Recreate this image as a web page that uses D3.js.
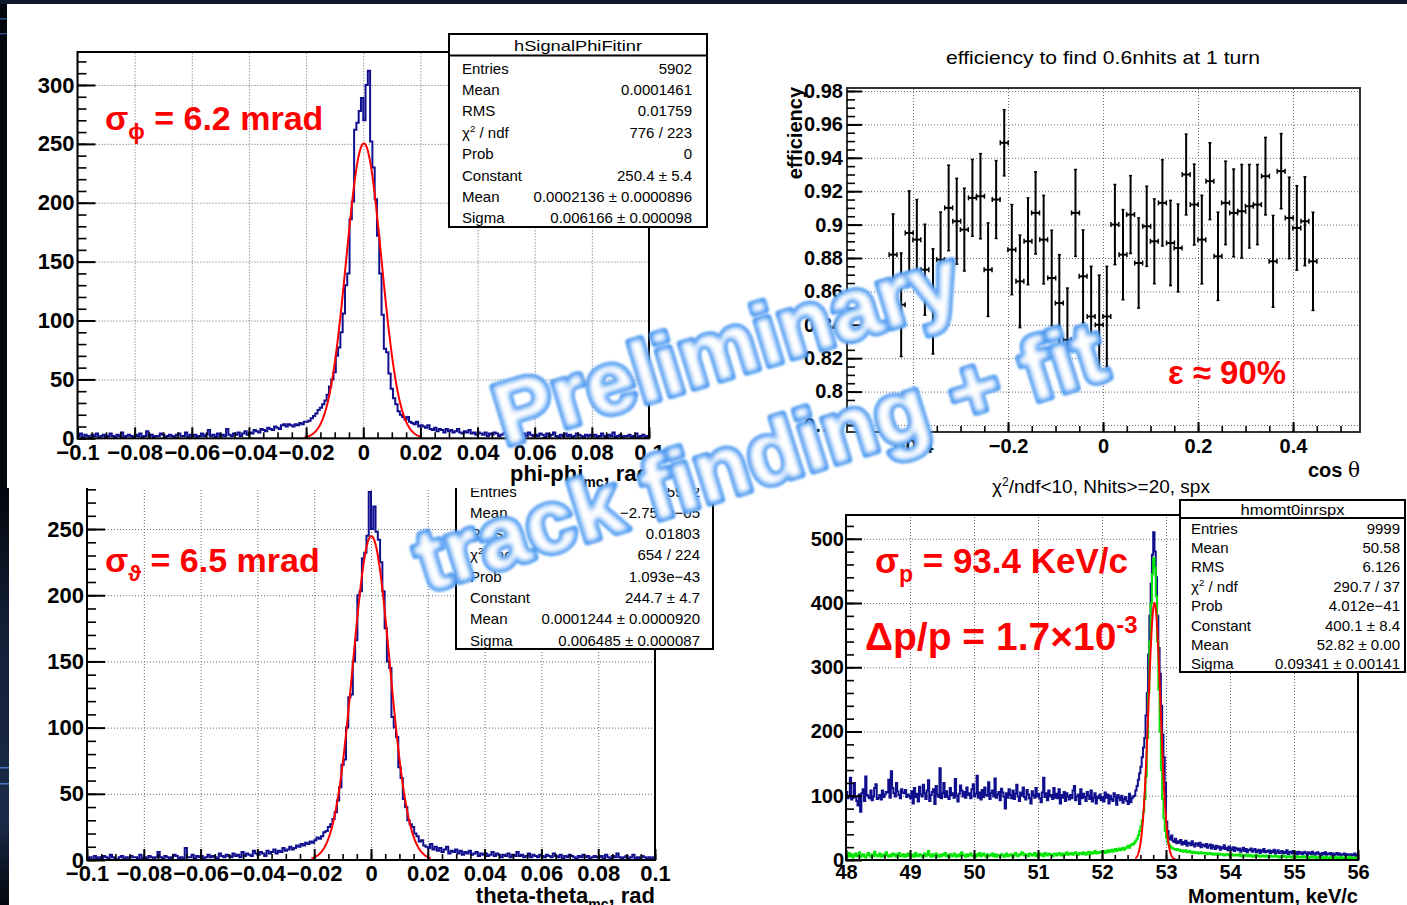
<!DOCTYPE html>
<html><head><meta charset="utf-8">
<script src="https://cdn.jsdelivr.net/npm/d3@7"></script>
<style>
html,body{margin:0;padding:0;background:#0d1628;overflow:hidden;}
svg{display:block;}
</style></head><body>
<svg id="c" width="1407" height="905"></svg>
<script>
// ---------------- DATA ----------------
// phi - phi_mc histogram, 250 bins on [-0.1, 0.1]
const phiRange = [-0.1, 0.1];
const phiCounts = [
 2,4,1,3,2,0,3,2,4,1,2,3,1,2,4,2,1,3,2,5,1,2,3,2,1,
 3,2,4,1,2,6,2,3,1,2,2,4,3,1,2,3,2,1,3,4,2,2,5,1,3,
 2,3,1,2,4,2,3,7,2,3,1,4,2,3,2,8,3,2,4,3,5,2,4,6,3,
 5,4,7,6,5,8,7,6,9,8,7,10,9,8,11,12,10,12,11,10,12,11,13,12,14,
 14,15,17,19,21,24,26,29,32,37,
 44,50,56,70,77,90,106,130,140,186,201,262,268,278,289,270,300,312,252,230,203,172,140,105,76,73,55,42,34,29,23,
 20,18,16,18,14,13,12,14,10,
 11,10,9,11,8,7,9,6,8,7,5,8,6,7,5,6,8,5,4,6,5,7,4,5,3,
 5,4,3,5,2,4,3,5,4,2,3,4,6,3,2,4,3,5,2,3,4,2,5,3,2,
 3,2,4,3,1,4,2,3,5,2,1,3,2,4,2,3,1,2,4,3,2,1,3,2,3,
 2,3,1,2,4,2,1,3,2,5,1,2,3,1,2,2,3,1,2,4,1,2,3,1,2
];
const phiFit = [250.4, 0.0002136, 0.006166];      // Constant, Mean, Sigma
const phiFitRange = [-0.0205, 0.0205];

// theta - theta_mc histogram, 250 bins on [-0.1, 0.1]
const thetaRange = [-0.1, 0.1];
const thetaCounts = [
 1,2,0,3,1,2,1,3,2,1,4,2,1,0,2,3,1,2,1,3,2,2,1,4,1,
 2,1,3,2,1,2,6,2,1,3,2,1,2,4,3,1,2,1,9,2,2,4,1,3,2,
 3,1,2,4,2,3,2,1,5,3,2,4,3,2,5,3,4,2,6,3,5,4,3,7,5,
 4,6,5,3,7,5,6,8,5,7,6,9,7,8,10,8,9,11,10,12,11,13,12,14,13,
 15,17,16,18,21,22,25,27,31,36,
 45,55,72,76,100,123,125,150,166,200,203,228,232,245,278,250,267,248,242,225,203,175,150,145,108,100,93,70,62,46,40,30,27,25,20,18,14,15,11,10,
 9,12,8,10,7,9,6,8,10,5,7,6,8,5,7,4,6,5,7,4,5,6,3,5,4,
 5,3,4,6,3,5,4,2,4,3,5,2,4,3,6,3,4,2,3,5,2,4,3,2,4,
 3,2,4,3,2,5,3,2,4,1,3,2,4,3,2,1,3,2,4,2,3,1,2,3,2,
 2,3,1,4,2,1,3,2,5,2,1,2,3,1,2,4,1,2,1,3,2,1,2,1,2
];
const thetaFit = [244.7, 0.0001244, 0.006485];
const thetaFitRange = [-0.021, 0.021];

// momentum histograms, 400 bins on [48, 56] keV/c
const momRange = [48, 56];
const momBlue = [
 106,96,99,128,94,97,120,98,92,85,102,75,104,110,92,130,101,99,96,108,93,99,112,118,95,
 97,101,94,108,98,102,106,105,125,97,138,112,104,99,120,107,101,96,110,105,104,109,98,102,100,
 96,107,88,112,98,103,91,114,102,99,117,104,95,108,124,92,101,106,110,87,115,102,98,143,96,
 104,120,98,107,99,95,112,101,104,97,126,100,91,103,116,108,99,106,97,113,101,104,96,110,118,
 99,103,131,97,105,94,109,98,113,101,100,121,95,104,108,99,127,97,102,106,93,111,105,99,80,
 104,97,110,101,96,108,95,103,117,99,92,105,100,113,98,94,109,102,96,88,107,101,97,112,99,
 103,96,90,105,128,98,104,93,108,99,101,95,112,97,103,96,110,88,101,97,106,92,104,99,94,
 101,96,108,115,93,99,102,87,110,96,103,98,92,106,100,95,108,91,97,104,88,99,96,102,93,
 98,91,105,97,102,88,100,95,92,104,99,86,101,97,93,100,89,95,98,92,87,103,90,96,99,
 100,108,115,125,135,145,160,175,190,225,260,320,380,430,475,510,480,440,380,330,290,240,195,160,120,60,45,35,32,38,
 30,28,33,26,29,27,31,24,28,25,30,22,27,26,23,29,24,21,26,25,22,27,20,24,23,
 21,25,19,22,24,18,23,20,17,22,19,21,16,20,18,23,17,19,15,21,18,16,20,14,19,
 17,15,18,13,16,19,14,17,12,16,15,18,13,15,17,12,14,16,11,15,13,17,12,14,13,
 15,11,14,12,16,10,13,15,11,12,14,10,13,11,15,9,12,13,10,14,11,12,9,13,10,
 12,9,11,13,10,8,12,11,9,13,10,8,11,12,9,10,7,11,9,12,8,10,9,11,8,
 10,7,9,11,8,10,6,9,8,10,7,9,8,6,9,7,8,10,6,8
];
const momGreen = [
 8,5,11,6,9,4,7,10,6,8,12,5,7,9,6,4,8,11,7,5,9,6,13,8,6,
 7,10,5,8,6,9,12,7,5,8,6,10,7,9,5,8,11,6,7,9,5,8,6,10,7,
 9,6,8,5,11,7,6,9,8,5,7,10,6,8,14,7,5,9,6,8,10,7,5,8,6,
 9,7,11,6,8,5,9,7,6,10,8,5,7,9,6,12,8,7,5,9,6,8,10,7,6,
 8,5,9,7,11,6,8,10,7,5,9,6,8,7,10,6,9,5,8,7,6,9,8,5,7,
 10,6,8,7,9,5,8,11,7,6,9,8,12,10,7,9,8,6,10,9,7,8,11,6,9,
 8,10,7,9,6,11,8,7,10,9,8,6,9,10,7,8,11,9,7,10,8,9,12,8,10,
 9,11,8,10,12,9,8,11,10,9,12,10,8,11,13,9,12,10,11,14,10,12,11,13,12,
 12,14,11,13,15,12,14,16,13,15,17,14,16,18,15,17,19,16,18,20,22,19,23,25,24,
 27,30,33,38,45,52,62,75,95,130,190,260,340,400,445,470,455,410,340,265,200,140,95,65,45,35,28,24,21,19,
 18,17,16,17,15,16,14,15,13,14,15,12,13,14,12,11,13,12,11,12,10,11,12,10,11,
 10,11,9,10,11,9,10,8,10,9,8,10,9,8,9,7,9,8,9,7,8,9,7,8,7,
 8,7,9,6,8,7,6,8,7,6,8,7,5,7,6,8,6,7,5,6,7,6,5,7,6,
 5,7,6,5,6,7,5,6,4,6,5,7,5,6,4,5,6,5,4,6,5,4,6,5,4,
 5,4,6,5,4,5,3,5,4,6,4,5,3,4,5,4,3,5,4,3,5,4,3,4,5,
 3,4,5,3,4,3,5,4,3,4,2,4,3,5,3,4,3,2,4,3
];
const momFit = [400.1, 52.82, 0.09341];
const momFitRange = [52.52, 53.22];

// efficiency vs cos(theta)
const effX = [-0.442,-0.425,-0.408,-0.392,-0.375,-0.358,-0.342,-0.325,-0.308,-0.292,-0.275,-0.258,-0.242,-0.225,-0.208,-0.192,-0.175,-0.158,-0.142,-0.125,-0.108,-0.092,-0.075,-0.058,-0.042,-0.025,-0.008,
              0.008,0.025,0.042,0.058,0.075,0.092,0.108,0.125,0.142,0.158,0.175,0.192,0.208,0.225,0.242,0.258,0.275,0.292,0.308,0.325,0.342,0.358,0.375,0.392,0.408,0.425,0.442];
const effY = [0.882,0.852,0.895,0.891,0.873,0.854,0.879,0.910,0.902,0.897,0.916,0.917,0.873,0.915,0.949,0.885,0.866,0.890,0.907,0.891,0.868,0.853,0.831,0.907,0.869,0.845,0.840,
              0.845,0.900,0.882,0.906,0.877,0.899,0.890,0.913,0.889,0.886,0.930,0.912,0.891,0.926,0.881,0.913,0.907,0.908,0.911,0.912,0.929,0.878,0.932,0.904,0.898,0.902,0.878];
const effErr = [0.0244,0.031,0.0252,0.024,0.0272,0.0315,0.0285,0.0256,0.0257,0.0248,0.023,0.0255,0.028,0.0233,0.0198,0.027,0.0277,0.026,0.0246,0.0265,0.0286,0.029,0.031,0.026,0.0278,0.030,0.0297,
                0.030,0.024,0.027,0.0233,0.027,0.024,0.0254,0.0258,0.0255,0.0263,0.0242,0.0242,0.0265,0.023,0.0264,0.025,0.0263,0.028,0.025,0.024,0.0232,0.0275,0.0225,0.0244,0.0253,0.0266,0.0294];
const effBinHalfWidth = 0.0083;

// tick labels
const phiTicksX = [-0.1,-0.08,-0.06,-0.04,-0.02,0,0.02,0.04,0.06,0.08,0.1];
const phiTicksY = [0,50,100,150,200,250,300];
const thetaTicksY = [0,50,100,150,200,250];
const effTicksX = [-0.4,-0.2,0,0.2,0.4];
const effTicksY = [0.78,0.8,0.82,0.84,0.86,0.88,0.9,0.92,0.94,0.96,0.98];
const momTicksX = [48,49,50,51,52,53,54,55,56];
const momTicksY = [0,100,200,300,400,500];

// stat boxes
const phiStats = [["Entries","5902"],["Mean","0.0001461"],["RMS","0.01759"],["chi2","776 / 223"],["Prob","0"],["Constant","250.4 \u00b1 5.4"],["Mean","0.0002136 \u00b1 0.0000896"],["Sigma","0.006166 \u00b1 0.000098"]];
const thetaStats = [["Entries","5902"],["Mean","\u22122.751e\u221205"],["RMS","0.01803"],["chi2","654 / 224"],["Prob","1.093e\u221243"],["Constant","244.7 \u00b1 4.7"],["Mean","0.0001244 \u00b1 0.0000920"],["Sigma","0.006485 \u00b1 0.000087"]];
const momStats = [["Entries","9999"],["Mean","50.58"],["RMS","6.126"],["chi2","290.7 / 37"],["Prob","4.012e\u221241"],["Constant","400.1 \u00b1 8.4"],["Mean","52.82 \u00b1 0.00"],["Sigma","0.09341 \u00b1 0.00141"]];

// ---------------- DRAW ----------------
const FONT = '"Liberation Sans", Arial, Helvetica, sans-serif';
const W = 1407, H = 905;
const svg = d3.select("#c").attr("font-family", FONT);
const defs = svg.append("defs");

const BLUE = "#10108f", GREEN = "#00e600", RED = "#ff0000";

// slide background
svg.append("rect").attr("width", W).attr("height", H).attr("fill", "#0e182b");
svg.append("rect").attr("x", 0).attr("y", 4).attr("width", 7).attr("height", 484).attr("fill", "#03060c");
[18, 33].forEach(yy => svg.append("rect").attr("x", 0).attr("y", yy).attr("width", 7).attr("height", 1.5).attr("fill", "#2c4f8f"));
const lg = defs.append("linearGradient").attr("id", "stripG").attr("x1", 0).attr("x2", 0).attr("y1", 0).attr("y2", 1);
lg.append("stop").attr("offset", "0").attr("stop-color", "#04070d");
lg.append("stop").attr("offset", "0.35").attr("stop-color", "#142038");
lg.append("stop").attr("offset", "0.8").attr("stop-color", "#1a2a48");
lg.append("stop").attr("offset", "1").attr("stop-color", "#04070d");
svg.append("rect").attr("x", 0).attr("y", 488).attr("width", 9).attr("height", 417).attr("fill", "url(#stripG)");
[767, 783].forEach(yy => svg.append("rect").attr("x", 0).attr("y", yy).attr("width", 9).attr("height", 1.5).attr("fill", "#4a78c8"));
svg.append("rect").attr("x", 9).attr("y", 4).attr("width", W - 9).attr("height", H - 4).attr("fill", "#fff");

function fmt(v) {
  if (Math.abs(v) < 1e-12) return "0";
  return String(+v.toFixed(3)).replace("-", "\u2212");
}

function panelBase(g, o) {
  const x = d3.scaleLinear().domain(o.xd).range([o.L, o.R]);
  const y = d3.scaleLinear().domain(o.yd).range([o.B, o.T]);
  const gridStyle = s => {
    s.select(".domain").remove();
    s.selectAll(".tick line").attr("stroke", "#6a6a6a").attr("stroke-width", 1).attr("stroke-dasharray", "1,2");
  };
  g.append("g").attr("transform", `translate(0,${o.B})`)
    .call(d3.axisBottom(x).tickValues(o.xMajor).tickSize(-(o.B - o.T)).tickFormat("")).call(gridStyle);
  g.append("g").attr("transform", `translate(${o.L},0)`)
    .call(d3.axisLeft(y).tickValues(o.yMajor).tickSize(-(o.R - o.L)).tickFormat("")).call(gridStyle);
  const cid = "clip" + o.id;
  defs.append("clipPath").attr("id", cid).append("rect")
    .attr("x", o.L).attr("y", o.T).attr("width", o.R - o.L).attr("height", o.B - o.T);
  const plot = g.append("g").attr("clip-path", `url(#${cid})`);
  return { x, y, plot };
}

function panelAxes(g, o, x, y) {
  g.append("rect").attr("x", o.L).attr("y", o.T).attr("width", o.R - o.L).attr("height", o.B - o.T)
    .attr("fill", "none").attr("stroke", o.frame || "#000").attr("stroke-width", 2);
  const st = (s, lw) => {
    s.select(".domain").remove();
    s.selectAll(".tick line").attr("stroke", "#000").attr("stroke-width", lw);
    s.selectAll("text").attr("font-family", FONT).attr("font-weight", "bold")
      .attr("font-size", o.fs).attr("fill", "#000");
  };
  g.append("g").attr("transform", `translate(0,${o.B})`)
    .call(d3.axisBottom(x).tickValues(o.xMinor).tickSizeInner(-o.xMin).tickSizeOuter(0).tickFormat(""))
    .call(s => st(s, 1.6));
  g.append("g").attr("transform", `translate(0,${o.B})`)
    .call(d3.axisBottom(x).tickValues(o.xMajor).tickSizeInner(-o.xMaj).tickSizeOuter(0).tickPadding(o.xPad).tickFormat(fmt))
    .call(s => st(s, 2));
  g.append("g").attr("transform", `translate(${o.L},0)`)
    .call(d3.axisLeft(y).tickValues(o.yMinor).tickSizeInner(-o.yMin).tickSizeOuter(0).tickFormat(""))
    .call(s => st(s, 1.6));
  g.append("g").attr("transform", `translate(${o.L},0)`)
    .call(d3.axisLeft(y).tickValues(o.yMajor).tickSizeInner(-o.yMaj).tickSizeOuter(0).tickPadding(o.yPad).tickFormat(fmt))
    .call(s => st(s, 2));
}

function histPath(counts, range, x, y) {
  const w = (range[1] - range[0]) / counts.length;
  const pts = counts.map((c, i) => [range[0] + i * w, c]);
  pts.push([range[1], counts[counts.length - 1]]);
  pts.unshift([range[0], 0]);
  const line = d3.line().x(d => x(d[0])).y(d => y(d[1])).curve(d3.curveStepAfter);
  return line(pts);
}
function gaussPath(par, rng, x, y) {
  const n = 240, step = (rng[1] - rng[0]) / n;
  const pts = d3.range(n + 1).map(i => {
    const xv = rng[0] + i * step;
    return [xv, par[0] * Math.exp(-0.5 * Math.pow((xv - par[1]) / par[2], 2))];
  });
  return d3.line().x(d => x(d[0])).y(d => y(d[1]))(pts);
}

function statBox(g, b) {
  g.append("rect").attr("x", b.x).attr("y", b.y).attr("width", b.w).attr("height", b.h)
    .attr("fill", "#fff").attr("stroke", "#000").attr("stroke-width", 2);
  g.append("line").attr("x1", b.x).attr("x2", b.x + b.w).attr("y1", b.sep).attr("y2", b.sep)
    .attr("stroke", "#000").attr("stroke-width", 2);
  g.append("text").attr("x", b.x + b.w / 2).attr("y", b.titleY).attr("text-anchor", "middle")
    .attr("font-size", b.fs).attr("textLength", b.titleLen).attr("lengthAdjust", "spacingAndGlyphs")
    .attr("fill", "#000").text(b.title);
  b.rows.forEach((r, i) => {
    const yy = b.row0 + i * b.step;
    const t = g.append("text").attr("x", b.lx).attr("y", yy).attr("font-size", b.fs).attr("fill", "#000");
    if (r[0] === "chi2") {
      t.append("tspan").text("\u03c7");
      t.append("tspan").attr("font-size", b.fs * 0.65).attr("dy", -6).text("2");
      t.append("tspan").attr("dy", 6).text(" / ndf");
    } else t.text(r[0]);
    g.append("text").attr("x", b.rx).attr("y", yy).attr("text-anchor", "end")
      .attr("font-size", b.fs).attr("fill", "#000").text(r[1]);
  });
}

function redLabel(g, x, y, fs, parts) {
  const t = g.append("text").attr("x", x).attr("y", y).attr("font-size", fs)
    .attr("font-weight", "bold").attr("fill", RED);
  parts.forEach(p => {
    const s = t.append("tspan").text(p.t);
    if (p.fs) s.attr("font-size", p.fs);
    if (p.dy) s.attr("dy", p.dy);
  });
  return t;
}

// ===== bottom-left: theta =====
{
  const g = svg.append("g");
  const o = { id: "th", L: 87, R: 655, T: 470, B: 860, xd: thetaRange, yd: [0, 294.6],
    xMajor: phiTicksX, yMajor: thetaTicksY,
    xMinor: d3.range(-0.1, 0.1001, 0.005), yMinor: d3.range(0, 291, 10),
    xMaj: 11, xMin: 6, yMaj: 18, yMin: 9, fs: 22, xPad: 5, yPad: 3 };
  const { x, y, plot } = panelBase(g, o);
  plot.append("path").attr("d", histPath(thetaCounts, thetaRange, x, y))
    .attr("fill", "none").attr("stroke", BLUE).attr("stroke-width", 2);
  plot.append("path").attr("d", gaussPath(thetaFit, thetaFitRange, x, y))
    .attr("fill", "none").attr("stroke", RED).attr("stroke-width", 2);
  panelAxes(g, o, x, y);
  const xl = g.append("text").attr("x", 655).attr("y", 903).attr("text-anchor", "end")
    .attr("font-size", 22).attr("font-weight", "bold").attr("fill", "#000");
  xl.append("tspan").text("theta-theta");
  xl.append("tspan").attr("font-size", 14).attr("dy", 6).text("mc");
  xl.append("tspan").attr("dy", -6).text(", rad");
  statBox(g, { x: 456, y: 458, w: 257, h: 191, sep: 480, titleY: 475, title: "hSignalThetaFitinr", titleLen: 140,
    fs: 15, rows: thetaStats, row0: 496.5, step: 21.3, lx: 470, rx: 700 });
  redLabel(g, 105, 572, 34, [{ t: "\u03c3" }, { t: "\u03d1", fs: 22, dy: 9 }, { t: " = 6.5 mrad", dy: -9 }]);
}

// ===== top-right: efficiency =====
{
  const g = svg.append("g");
  const o = { id: "ef", L: 847, R: 1360, T: 88, B: 432, xd: [-0.539, 0.541], yd: [0.7758, 0.9818],
    xMajor: effTicksX, yMajor: effTicksY,
    xMinor: d3.range(-0.5, 0.5001, 0.05), yMinor: d3.range(0.78, 0.9801, 0.005),
    xMaj: 10, xMin: 6, yMaj: 15, yMin: 8, fs: 20, xPad: 7, yPad: 4, frame: "#333" };
  const { x, y, plot } = panelBase(g, o);
  const pts = plot.append("g").attr("stroke", "#000").attr("stroke-width", 2);
  effX.forEach((xv, i) => {
    const cx = x(xv), cy = y(effY[i]), yt = y(effY[i] + effErr[i]), yb = y(effY[i] - effErr[i]);
    const xl = x(xv - effBinHalfWidth), xr = x(xv + effBinHalfWidth);
    pts.append("line").attr("x1", cx).attr("x2", cx).attr("y1", yt).attr("y2", yb);
    pts.append("line").attr("x1", xl).attr("x2", xr).attr("y1", cy).attr("y2", cy);
    pts.append("line").attr("x1", xl).attr("x2", xl).attr("y1", cy - 2.5).attr("y2", cy + 2.5).attr("stroke-width", 1.5);
    pts.append("line").attr("x1", xr).attr("x2", xr).attr("y1", cy - 2.5).attr("y2", cy + 2.5).attr("stroke-width", 1.5);
    pts.append("line").attr("x1", cx - 1.5).attr("x2", cx + 1.5).attr("y1", yt).attr("y2", yt).attr("stroke-width", 1.5);
    pts.append("line").attr("x1", cx - 1.5).attr("x2", cx + 1.5).attr("y1", yb).attr("y2", yb).attr("stroke-width", 1.5);
  });
  panelAxes(g, o, x, y);
  g.append("text").attr("x", 1103).attr("y", 64).attr("text-anchor", "middle").attr("font-size", 19)
    .attr("textLength", 314).attr("lengthAdjust", "spacingAndGlyphs").attr("fill", "#000")
    .text("efficiency to find 0.6nhits at 1 turn");
  g.append("text").attr("transform", "translate(802,87) rotate(-90)").attr("text-anchor", "end")
    .attr("font-size", 20).attr("font-weight", "bold").attr("fill", "#000").text("efficiency");
  const ct = g.append("text").attr("x", 1360).attr("y", 477).attr("text-anchor", "end")
    .attr("font-size", 20).attr("font-weight", "bold").attr("fill", "#000");
  ct.append("tspan").text("cos  ");
  ct.append("tspan").attr("font-weight", "normal").attr("font-family", "'DejaVu Serif', serif").text("\u03b8");
  redLabel(g, 1168, 384, 33, [{ t: "\u03b5 \u2248 90%" }]);
}

// ===== bottom-right: momentum =====
{
  const g = svg.append("g");
  const o = { id: "mo", L: 846, R: 1358, T: 515, B: 860, xd: momRange, yd: [0, 537],
    xMajor: momTicksX, yMajor: momTicksY,
    xMinor: d3.range(48, 56.001, 0.2), yMinor: d3.range(0, 521, 20),
    xMaj: 10, xMin: 5, yMaj: 16, yMin: 8, fs: 20, xPad: 5, yPad: 2 };
  const { x, y, plot } = panelBase(g, o);
  plot.append("path").attr("d", histPath(momBlue, momRange, x, y))
    .attr("fill", "none").attr("stroke", BLUE).attr("stroke-width", 2);
  plot.append("path").attr("d", histPath(momGreen, momRange, x, y))
    .attr("fill", "none").attr("stroke", GREEN).attr("stroke-width", 2);
  plot.append("path").attr("d", gaussPath(momFit, momFitRange, x, y))
    .attr("fill", "none").attr("stroke", RED).attr("stroke-width", 2);
  panelAxes(g, o, x, y);
  g.append("text").attr("x", 1358).attr("y", 903).attr("text-anchor", "end").attr("font-size", 20)
    .attr("font-weight", "bold").attr("fill", "#000").text("Momentum, keV/c");
  const st = g.append("text").attr("x", 1101).attr("y", 493).attr("text-anchor", "middle")
    .attr("font-size", 19).attr("fill", "#000");
  st.append("tspan").text("\u03c7");
  st.append("tspan").attr("font-size", 12).attr("dy", -7).text("2");
  st.append("tspan").attr("dy", 7).text("/ndf<10, Nhits>=20, spx");
  statBox(g, { x: 1180, y: 500, w: 225, h: 172, sep: 518, titleY: 514.5, title: "hmomt0inrspx", titleLen: 104,
    fs: 15, rows: momStats, row0: 533.5, step: 19.4, lx: 1191, rx: 1400 });
  redLabel(g, 875, 573, 35, [{ t: "\u03c3" }, { t: "p", fs: 23, dy: 9 }, { t: " = 93.4 KeV/c", dy: -9 }]);
  redLabel(g, 865, 650, 39, [{ t: "\u0394p/p = 1.7\u00d710" }, { t: "-3", fs: 24, dy: -17 }]);
}

// ===== top-left: phi (pasted on top) =====
{
  defs.append("clipPath").attr("id", "tlClip").append("rect").attr("x", 7).attr("y", 4).attr("width", 733).attr("height", 484);
  const g = svg.append("g").attr("clip-path", "url(#tlClip)");
  g.append("rect").attr("x", 7).attr("y", 4).attr("width", 733).attr("height", 484).attr("fill", "#fff");
  const o = { id: "ph", L: 77.5, R: 649, T: 52, B: 438.3, xd: phiRange, yd: [0, 328],
    xMajor: phiTicksX, yMajor: phiTicksY,
    xMinor: d3.range(-0.1, 0.1001, 0.005), yMinor: d3.range(0, 321, 10),
    xMaj: 11, xMin: 6, yMaj: 18, yMin: 9, fs: 22, xPad: 6, yPad: 3 };
  const { x, y, plot } = panelBase(g, o);
  plot.append("path").attr("d", histPath(phiCounts, phiRange, x, y))
    .attr("fill", "none").attr("stroke", BLUE).attr("stroke-width", 2);
  plot.append("path").attr("d", gaussPath(phiFit, phiFitRange, x, y))
    .attr("fill", "none").attr("stroke", RED).attr("stroke-width", 2);
  panelAxes(g, o, x, y);
  const xl = g.append("text").attr("x", 650).attr("y", 481).attr("text-anchor", "end")
    .attr("font-size", 22).attr("font-weight", "bold").attr("fill", "#000");
  xl.append("tspan").text("phi-phi");
  xl.append("tspan").attr("font-size", 14).attr("dy", 6).text("mc");
  xl.append("tspan").attr("dy", -6).text(", rad");
  statBox(g, { x: 449, y: 34, w: 258, h: 193, sep: 55.5, titleY: 50.5, title: "hSignalPhiFitinr", titleLen: 128,
    fs: 15, rows: phiStats, row0: 73.6, step: 21.4, lx: 462, rx: 692 });
  redLabel(g, 105, 130, 34, [{ t: "\u03c3" }, { t: "\u03d5", fs: 22, dy: 9 }, { t: " = 6.2 mrad", dy: -9 }]);
}

// ===== watermark =====
{
  const f1 = defs.append("filter").attr("id", "wb1").attr("x", "-10%").attr("y", "-40%").attr("width", "120%").attr("height", "180%");
  f1.append("feGaussianBlur").attr("stdDeviation", 1.0);
  const f2 = defs.append("filter").attr("id", "wb2").attr("x", "-10%").attr("y", "-40%").attr("width", "120%").attr("height", "180%");
  f2.append("feGaussianBlur").attr("stdDeviation", 2.4);
  const wm = svg.append("g");
  const words = [
    { t: "Preliminary", x: 505, y: 446, a: -17, len: 482, fs: 88 },
    { t: "track finding + fit", x: 426, y: 592, a: -17.4, len: 718, fs: 88 }
  ];
  words.forEach(w => {
    const mk = () => wm.append("text").attr("transform", `translate(${w.x},${w.y}) rotate(${w.a})`)
      .attr("font-family", FONT).attr("font-weight", "bold").attr("font-size", w.fs)
      .attr("textLength", w.len).attr("lengthAdjust", "spacingAndGlyphs").text(w.t);
    mk().attr("fill", "#3a8ff0").attr("stroke", "#3a8ff0").attr("stroke-width", 7)
      .attr("stroke-linejoin", "round").attr("filter", "url(#wb1)");
    mk().attr("fill", "#ffffff").attr("filter", "url(#wb2)");
  });
}
</script>
</body></html>
